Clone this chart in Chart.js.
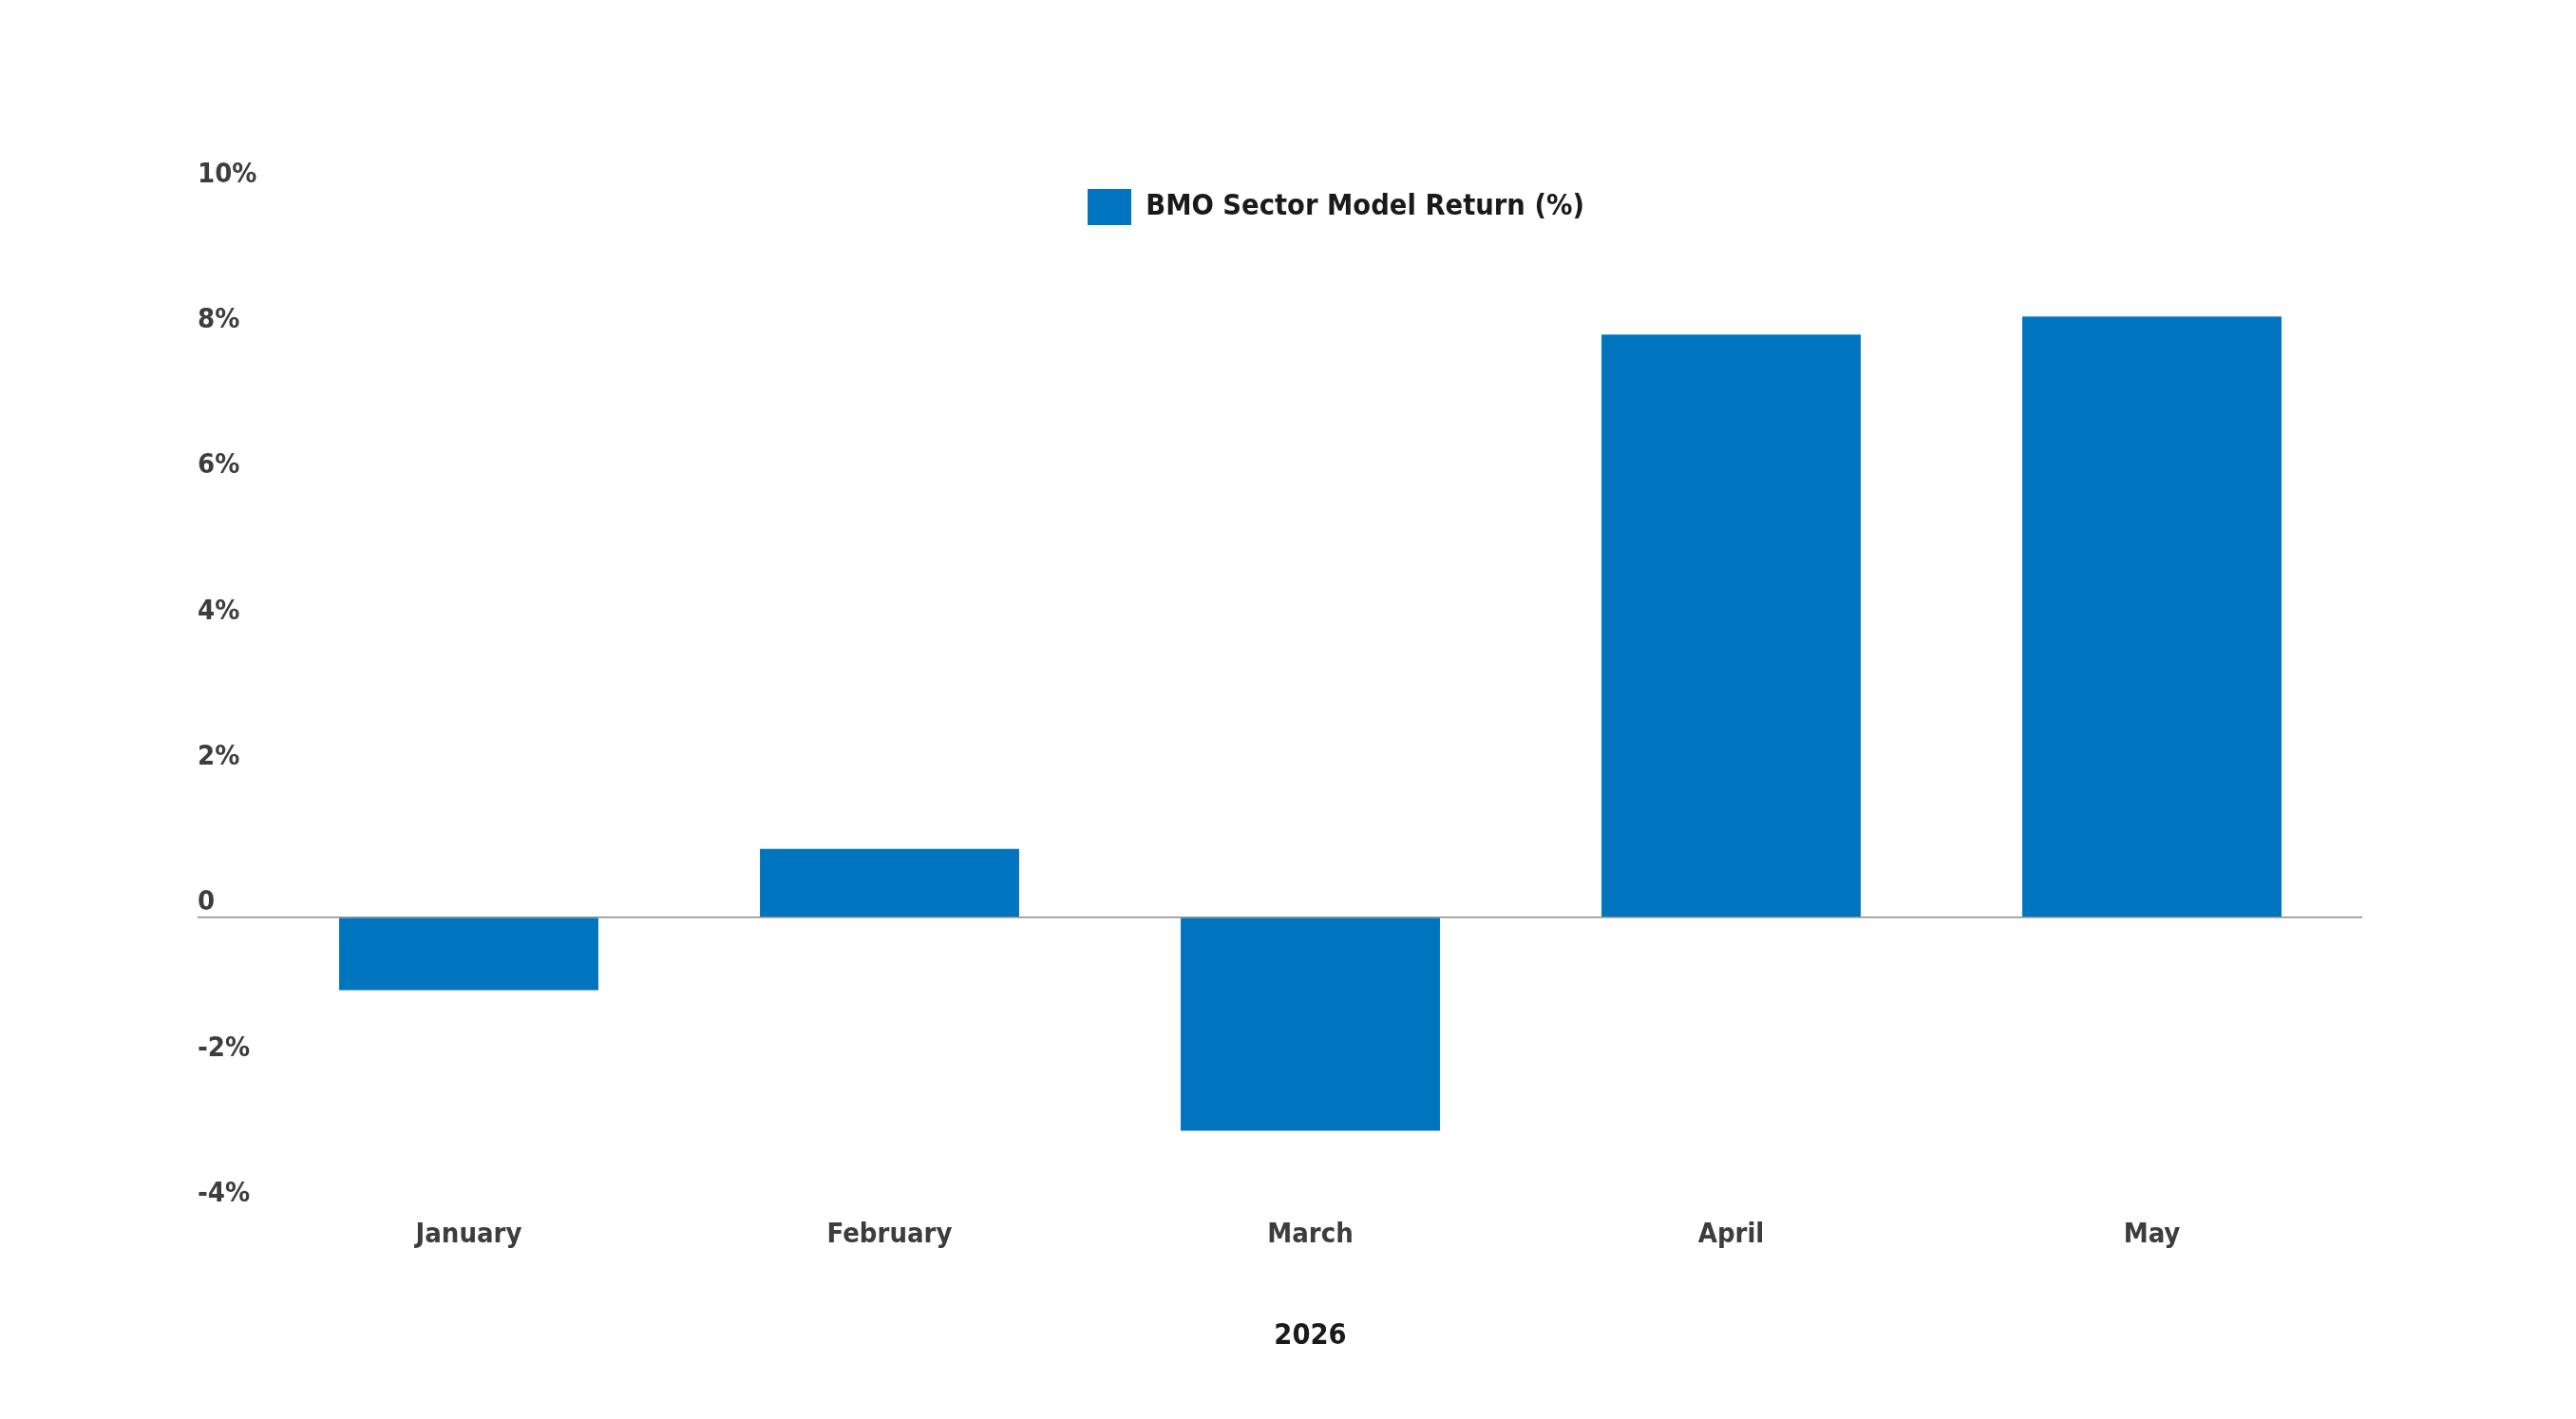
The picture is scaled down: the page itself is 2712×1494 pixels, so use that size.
<!DOCTYPE html>
<html>
<head>
<meta charset="utf-8">
<script src="https://cdn.jsdelivr.net/npm/chart.js@4.4.1/dist/chart.umd.min.js"></script>
<style>
  html, body { margin: 0; padding: 0; background: #ffffff; }
  #wrap { width: 2712px; height: 1494px; position: relative; }
</style>
</head>
<body>
<div id="wrap"><canvas id="chart" width="2712" height="1494"></canvas></div>
<script>
// ---- data ----
const categories = ['January', 'February', 'March', 'April', 'May'];
const seriesLabel = 'BMO Sector Model Return (%)';
const returns = [-1.0, 0.94, -2.93, 8.0, 8.25];
const yMin = -4;
const yMax = 10;
const yStep = 2;
const xAxisTitle = '2026';

// ---- styles ----
const FONT = '"DejaVu Sans Condensed", "Liberation Sans Narrow", sans-serif';
const BAR_COLOR = '#0074be';
const TICK_COLOR = '#3d3d3d';
const TEXT_DARK = '#1a1a1a';
const ZERO_LINE = '#8a8a8a';

// place the legend at the top of the plot area, centred (slightly right, as in the source)
const legendPlacer = {
  id: 'legendPlacer',
  afterLayout(chart) {
    const lg = chart.legend;
    const ca = chart.chartArea;
    if (!lg || !ca) return;
    const w = lg.width;
    const h = lg.height;
    const cx = (ca.left + ca.right) / 2 + 32;
    lg.left = cx - w / 2;
    lg.right = lg.left + w;
    lg.top = ca.top;
    lg.bottom = lg.top + h;
  }
};

const ctx = document.getElementById('chart').getContext('2d');
new Chart(ctx, {
  type: 'bar',
  data: {
    labels: categories,
    datasets: [{
      label: seriesLabel,
      data: returns,
      backgroundColor: BAR_COLOR,
      borderWidth: 0,
      categoryPercentage: 1.0,
      barPercentage: 0.616
    }]
  },
  plugins: [legendPlacer],
  options: {
    responsive: false,
    devicePixelRatio: 1,
    animation: false,
    layout: { padding: { top: 199, left: 208, right: 225, bottom: 69 } },
    plugins: {
      tooltip: { enabled: false },
      legend: {
        position: 'chartArea',
        align: 'start',
        labels: {
          boxWidth: 46,
          boxHeight: 38,
          padding: 0,
          color: TEXT_DARK,
          font: { family: FONT, size: 30.5, weight: 'bold' }
        }
      }
    },
    scales: {
      x: {
        grid: { display: false, drawTicks: false },
        border: { display: false },
        ticks: {
          color: TICK_COLOR,
          padding: 10,
          font: { family: FONT, size: 29, weight: 'bold' }
        },
        title: {
          display: true,
          text: xAxisTitle,
          color: TEXT_DARK,
          padding: { top: 61, bottom: 0 },
          font: { family: FONT, size: 30.5, weight: 'bold' }
        }
      },
      y: {
        min: yMin,
        max: yMax,
        afterFit: (scale) => { scale.width = 64; },
        border: { display: false },
        grid: {
          drawTicks: true,
          tickLength: 64,
          lineWidth: 1.5,
          tickWidth: 1.5,
          color: (c) => (c.tick && c.tick.value === 0 ? ZERO_LINE : 'rgba(0,0,0,0)'),
          tickColor: (c) => (c.tick && c.tick.value === 0 ? ZERO_LINE : 'rgba(0,0,0,0)')
        },
        ticks: {
          stepSize: yStep,
          crossAlign: 'far',
          padding: 0,
          labelOffset: -15,
          color: TICK_COLOR,
          font: { family: FONT, size: 29, weight: 'bold' },
          callback: (v) => (v === 0 ? '0' : v + '%')
        }
      }
    }
  }
});
</script>
</body>
</html>
